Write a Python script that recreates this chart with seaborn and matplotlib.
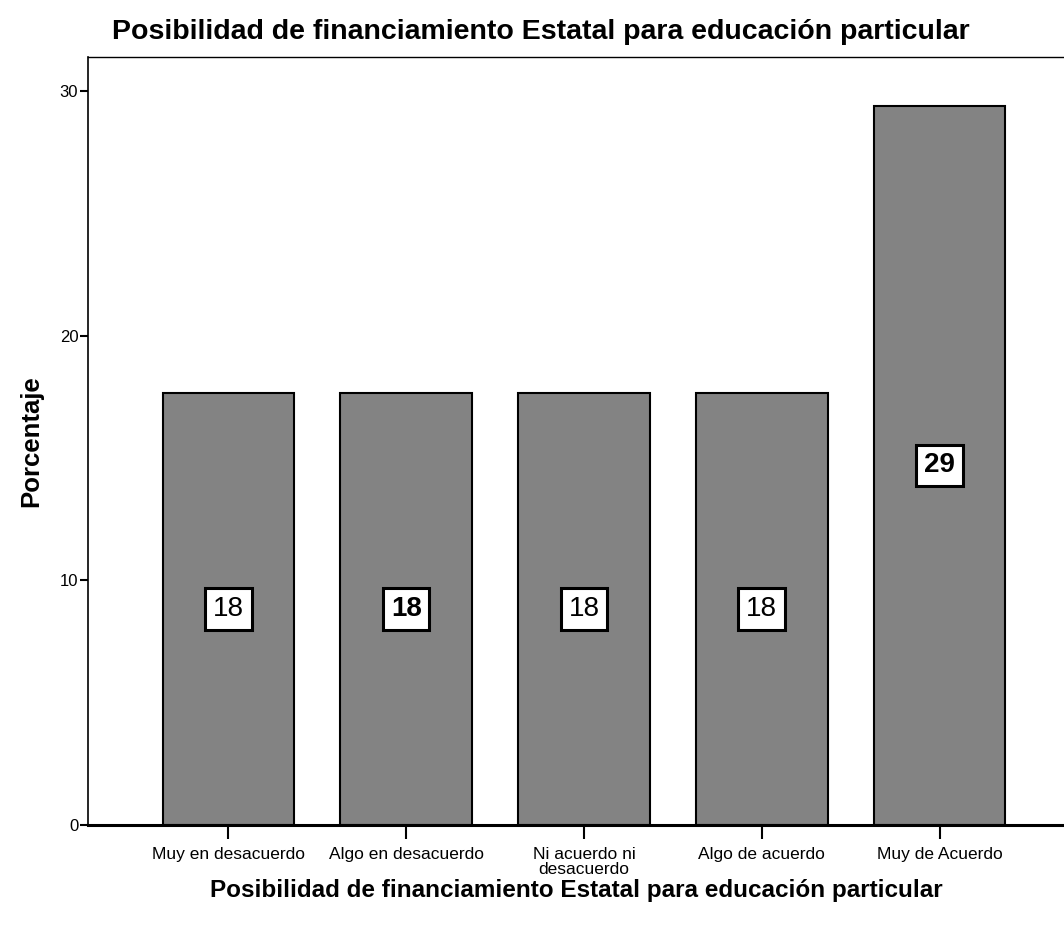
import pandas as pd
import matplotlib.pyplot as plt
import seaborn as sns

# Data (percent of respondents)
categorias = ['Muy en desacuerdo', 'Algo en desacuerdo', 'Ni acuerdo ni\ndesacuerdo',
              'Algo de acuerdo', 'Muy de Acuerdo']
porcentaje = [17.65, 17.65, 17.65, 17.65, 29.41]
etiquetas = ['18', '18', '18', '18', '29']

df = pd.DataFrame({'categoria': categorias, 'porcentaje': porcentaje})

sns.set_style('white')
plt.rcParams['font.family'] = ['Liberation Sans', 'DejaVu Sans']
plt.rcParams['text.color'] = 'black'
plt.rcParams['axes.labelcolor'] = 'black'
plt.rcParams['xtick.color'] = 'black'
plt.rcParams['ytick.color'] = 'black'

fig = plt.figure(figsize=(10.64, 9.30), dpi=100)
ax = fig.add_axes([88 / 1064, 1 - 825 / 930, 1 - 88 / 1064, (825 - 57) / 930])

sns.barplot(data=df, x='categoria', y='porcentaje', color='#838383',
            edgecolor='black', linewidth=1.5, width=0.74, saturation=1, ax=ax)

# value labels in white boxes at the middle of each bar
pesos = ['normal', 'bold', 'normal', 'normal', 'bold']
for i, (v, t) in enumerate(zip(porcentaje, etiquetas)):
    ax.text(i, v / 2, t, ha='center', va='center', fontsize=20, fontweight=pesos[i],
            bbox=dict(boxstyle='square,pad=0.28', fc='white', ec='black', lw=2.2))

ax.set_xlim(-0.79, 4.70)
ax.set_ylim(0, 31.4)
ax.set_yticks([0, 10, 20, 30])

ax.spines['right'].set_visible(False)
for s in ['left', 'top', 'bottom']:
    ax.spines[s].set_color('black')
ax.spines['left'].set_linewidth(1.2)
ax.spines['top'].set_linewidth(1.0)
ax.spines['bottom'].set_linewidth(2.2)

ax.tick_params(axis='y', direction='out', length=6, width=1.5, labelsize=12, pad=1, left=True)
ax.tick_params(axis='x', direction='out', length=10, width=1.5, labelsize=12.5, pad=6, bottom=True)
for lbl in ax.get_xticklabels():
    lbl.set_linespacing(1.0)

ax.set_ylabel('Porcentaje', fontsize=18.5, fontweight='bold', labelpad=12)
ax.set_xlabel('Posibilidad de financiamiento Estatal para educación particular',
              fontsize=17.5, fontweight='bold', labelpad=1)
fig.text(0.508, 0.966, 'Posibilidad de financiamiento Estatal para educación particular',
         ha='center', va='center', fontsize=20.5, fontweight='bold')

fig.savefig('out.png', dpi=100)
